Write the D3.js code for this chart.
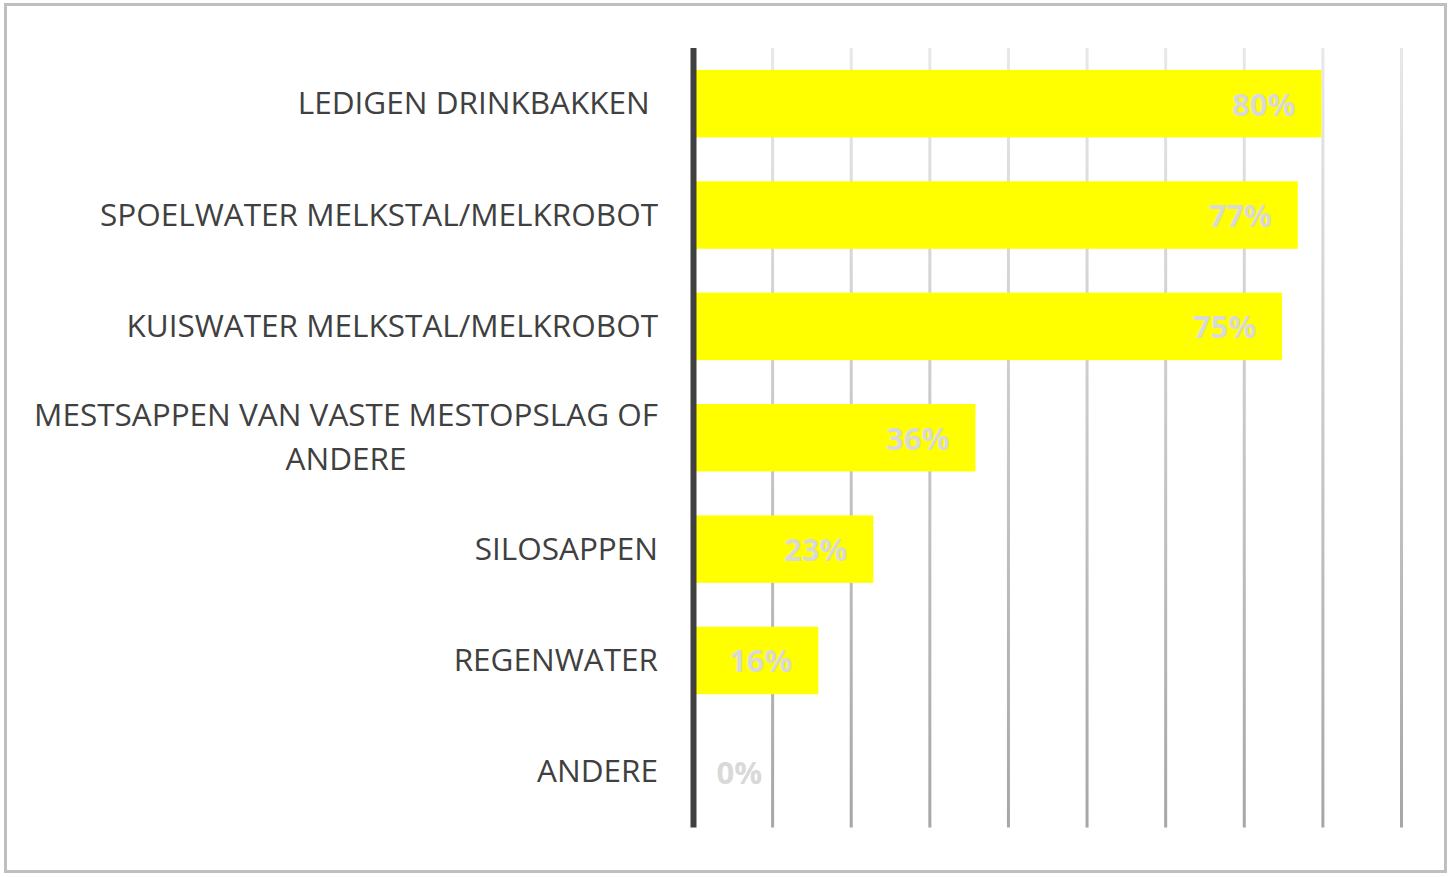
<!DOCTYPE html>
<html>
<head>
<meta charset="utf-8">
<script src="https://cdn.jsdelivr.net/npm/d3@7"></script>
<style>
  html, body { margin: 0; padding: 0; background: #fff; }
  svg { display: block; }
</style>
</head>
<body>
<svg id="chart" width="1450" height="877"></svg>
<script>
const categories = [
  "LEDIGEN DRINKBAKKEN ",
  "SPOELWATER MELKSTAL/MELKROBOT",
  "KUISWATER MELKSTAL/MELKROBOT",
  "MESTSAPPEN VAN VASTE MESTOPSLAG OF|ANDERE",
  "SILOSAPPEN",
  "REGENWATER",
  "ANDERE"
];
const values = [0.80, 0.77, 0.75, 0.36, 0.23, 0.16, 0.00];
const valueLabels = ["80%", "77%", "75%", "36%", "23%", "16%", "0%"];
const gridTicks = [0.1, 0.2, 0.3, 0.4, 0.5, 0.6, 0.7, 0.8, 0.9];

const svg = d3.select("#chart");
const plot = { left: 693.5, right: 1401, top: 48, bottom: 827.5 };
const FONT = "'Open Sans', sans-serif";
const catSize = 31.5;

// outer frame
svg.append("rect")
  .attr("x", 5.5).attr("y", 4.5).attr("width", 1440).attr("height", 867)
  .attr("fill", "#fff").attr("stroke", "#bfbfbf").attr("stroke-width", 3);

const x = d3.scaleLinear().domain([0, 0.9]).range([plot.left, plot.right]);
const y = d3.scaleBand().domain(categories).range([plot.top, plot.bottom]).paddingInner(0.394).paddingOuter(0.197);

// gradient for gridlines (local coords of tick group: -h .. 0)
const defs = svg.append("defs");
const grad = defs.append("linearGradient").attr("id", "gridGrad")
  .attr("gradientUnits", "userSpaceOnUse")
  .attr("x1", 0).attr("y1", -(plot.bottom - plot.top)).attr("x2", 0).attr("y2", 0);
grad.append("stop").attr("offset", "0%").attr("stop-color", "#e8e8e8");
grad.append("stop").attr("offset", "100%").attr("stop-color", "#a6a6a6");

// gridlines via axis
const gridAxis = d3.axisBottom(x).tickValues(gridTicks).tickSize(-(plot.bottom - plot.top)).tickFormat("");
const gg = svg.append("g").attr("transform", `translate(0,${plot.bottom})`).call(gridAxis);
gg.select(".domain").remove();
gg.selectAll(".tick line").attr("stroke", "url(#gridGrad)").attr("stroke-width", 3);

// bars
svg.append("g").selectAll("rect").data(values).join("rect")
  .attr("x", x(0))
  .attr("y", (d, i) => y(categories[i]))
  .attr("width", d => Math.max(0, x(d) - x(0) - 1))
  .attr("height", y.bandwidth())
  .attr("fill", "#ffff00");

// vertical axis line
svg.append("line")
  .attr("x1", plot.left).attr("x2", plot.left)
  .attr("y1", plot.top).attr("y2", plot.bottom)
  .attr("stroke", "#404040").attr("stroke-width", 6);

// category labels
const labelX = 658;
const lineH = 44;
categories.forEach((c, i) => {
  const lines = c.split("|");
  const cy = y(c) + y.bandwidth() / 2 - 2;
  const t = svg.append("text")
    .attr("font-family", FONT)
    .attr("font-size", catSize)
    .attr("fill", "#404040")
    .attr("xml:space", "preserve");
  if (lines.length === 1) {
    t.attr("x", labelX).attr("y", cy).attr("text-anchor", "end")
      .attr("dominant-baseline", "central").text(lines[0]);
  } else {
    const tmp = svg.append("text").attr("font-family", FONT).attr("font-size", catSize).text(lines[0]);
    const wMax = tmp.node().getComputedTextLength();
    tmp.remove();
    const cx = labelX - wMax / 2;
    lines.forEach((ln, k) => {
      t.append("tspan").attr("x", cx).attr("text-anchor", "middle")
        .attr("y", cy + (k - (lines.length - 1) / 2) * lineH)
        .attr("dominant-baseline", "central").text(ln);
    });
  }
});

// value labels
svg.append("g").selectAll("text").data(values).join("text")
  .attr("x", d => d === 0 ? x(0) + 23 : x(d) - 27)
  .attr("y", (d, i) => y(categories[i]) + y.bandwidth() / 2)
  .attr("text-anchor", d => d === 0 ? "start" : "end")
  .attr("dominant-baseline", "central")
  .attr("font-family", FONT)
  .attr("font-weight", "bold")
  .attr("font-size", 31)
  .attr("fill", "#d9d9d9")
  .text((d, i) => valueLabels[i]);
</script>
</body>
</html>
